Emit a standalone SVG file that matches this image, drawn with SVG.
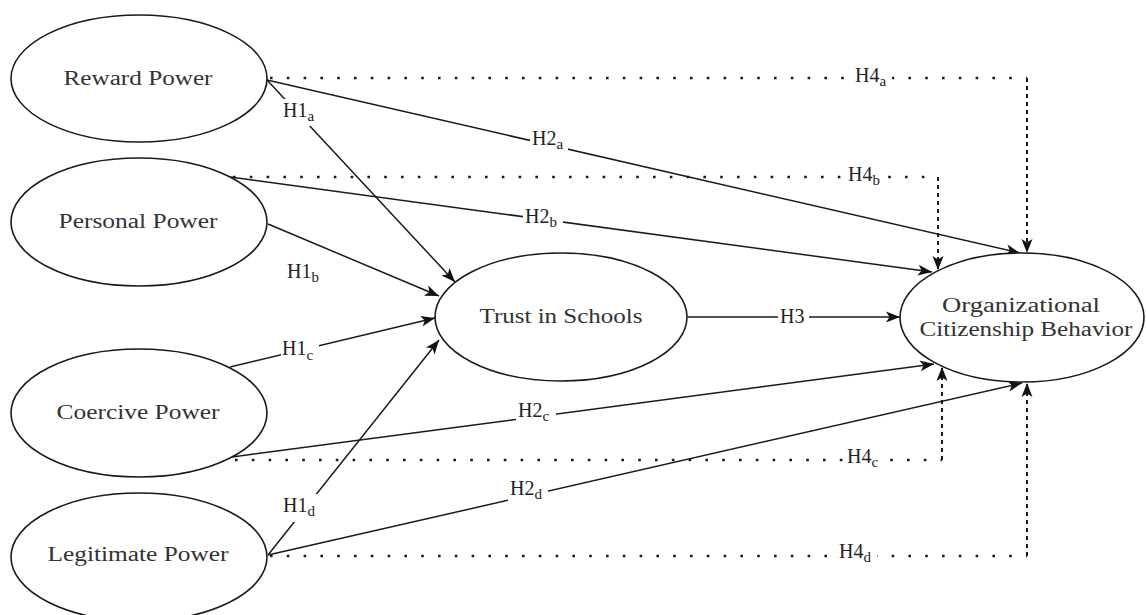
<svg xmlns="http://www.w3.org/2000/svg" width="1146" height="615" viewBox="0 0 1146 615">
<defs>
<style>
.node ellipse{fill:#fff;stroke:#1a1a1a;stroke-width:1.6}
.nt{font-family:"Liberation Serif","Times New Roman",serif;font-size:20px;fill:#333;text-anchor:middle}
.lbl{font-family:"Liberation Serif","Times New Roman",serif;font-size:20px;fill:#222}
.sub{font-size:15px}
.solid{fill:none;stroke:#1a1a1a;stroke-width:1.5}
.dh{fill:none;stroke:#1a1a1a;stroke-width:2.6;stroke-dasharray:2.6 14.2}
.dv{fill:none;stroke:#1a1a1a;stroke-width:2;stroke-dasharray:4 4}
.bg{fill:#fff}
</style>
<marker id="arr" markerUnits="userSpaceOnUse" markerWidth="16" markerHeight="12" refX="14" refY="5.5" orient="auto" overflow="visible">
<path d="M0,0 L14,5.5 L0,11 L3.5,5.5 z" fill="#111"/>
</marker>
</defs>
<rect width="1146" height="615" fill="#fff"/>

<g id="connectors">
<!-- H1 -->
<path class="solid" d="M267,80 L455,282" marker-end="url(#arr)"/>
<path class="solid" d="M268,224 L439,296" marker-end="url(#arr)"/>
<path class="solid" d="M230,367 L435,318" marker-end="url(#arr)"/>
<path class="solid" d="M268,555 L439,340" marker-end="url(#arr)"/>
<!-- H2 -->
<path class="solid" d="M267,80 L1020,253" marker-end="url(#arr)"/>
<path class="solid" d="M230,177 L932,272" marker-end="url(#arr)"/>
<path class="solid" d="M232,457 L934,364" marker-end="url(#arr)"/>
<path class="solid" d="M268,555 L1022,383" marker-end="url(#arr)"/>
<!-- H3 -->
<path class="solid" d="M688,317 L900,317" marker-end="url(#arr)"/>
<!-- H4 dotted -->
<path class="dh" d="M270,78 H1027"/>
<path class="dv" d="M1027,78 V253" marker-end="url(#arr)"/>
<path class="dh" d="M233,177 H938"/>
<path class="dv" d="M938,177 V270" marker-end="url(#arr)"/>
<path class="dh" d="M235,460 H942"/>
<path class="dv" d="M942,460 V367" marker-end="url(#arr)"/>
<path class="dh" d="M270,556 H1027"/>
<path class="dv" d="M1027,556 V383" marker-end="url(#arr)"/>

<!-- labels -->
<rect class="bg" x="281" y="99" width="41" height="27"/>
<text class="lbl" x="283" y="117">H1<tspan class="sub" dy="4">a</tspan></text>
<text class="lbl" x="287" y="278">H1<tspan class="sub" dy="4">b</tspan></text>
<rect class="bg" x="281" y="339" width="38" height="24"/>
<text class="lbl" x="282" y="355">H1<tspan class="sub" dy="5">c</tspan></text>
<rect class="bg" x="280" y="494" width="46" height="28"/>
<text class="lbl" x="283" y="512">H1<tspan class="sub" dy="4">d</tspan></text>

<rect class="bg" x="530" y="130" width="38" height="20"/>
<text class="lbl" x="532" y="145">H2<tspan class="sub" dy="4">a</tspan></text>
<rect class="bg" x="523" y="207" width="40" height="21"/>
<text class="lbl" x="525" y="223">H2<tspan class="sub" dy="4">b</tspan></text>
<rect class="bg" x="516" y="401" width="40" height="22"/>
<text class="lbl" x="518" y="417">H2<tspan class="sub" dy="4">c</tspan></text>
<rect class="bg" x="508" y="480" width="40" height="22"/>
<text class="lbl" x="510" y="495">H2<tspan class="sub" dy="4">d</tspan></text>

<rect class="bg" x="778" y="307" width="31" height="20"/>
<text class="lbl" x="780" y="323">H3</text>

<rect class="bg" x="852" y="66" width="40" height="22"/>
<text class="lbl" x="855" y="82">H4<tspan class="sub" dy="4">a</tspan></text>
<rect class="bg" x="846" y="166" width="40" height="22"/>
<text class="lbl" x="848" y="181">H4<tspan class="sub" dy="4">b</tspan></text>
<rect class="bg" x="845" y="448" width="38" height="22"/>
<text class="lbl" x="847" y="463">H4<tspan class="sub" dy="4">c</tspan></text>
<rect class="bg" x="837" y="543" width="40" height="22"/>
<text class="lbl" x="839" y="558">H4<tspan class="sub" dy="4">d</tspan></text>
</g>

<g id="reward" class="node">
<ellipse cx="139" cy="78.5" rx="128" ry="63.5"/>
<text class="nt" x="138" y="85" textLength="149" lengthAdjust="spacingAndGlyphs">Reward Power</text>
</g>
<g id="personal" class="node">
<ellipse cx="139" cy="222" rx="128" ry="64"/>
<text class="nt" x="138" y="228" textLength="159" lengthAdjust="spacingAndGlyphs">Personal Power</text>
</g>
<g id="coercive" class="node">
<ellipse cx="139" cy="413" rx="128" ry="64"/>
<text class="nt" x="138" y="419" textLength="163" lengthAdjust="spacingAndGlyphs">Coercive Power</text>
</g>
<g id="legitimate" class="node">
<ellipse cx="139" cy="557" rx="128" ry="64"/>
<text class="nt" x="138" y="561" textLength="181" lengthAdjust="spacingAndGlyphs">Legitimate Power</text>
</g>
<g id="trust" class="node">
<ellipse cx="561" cy="317" rx="126" ry="64"/>
<text class="nt" x="561" y="323" textLength="163" lengthAdjust="spacingAndGlyphs">Trust in Schools</text>
</g>
<g id="ocb" class="node">
<ellipse cx="1022" cy="317.5" rx="122" ry="64.5"/>
<text class="nt" x="1021" y="312" textLength="158" lengthAdjust="spacingAndGlyphs">Organizational</text>
<text class="nt" x="1026" y="336" textLength="213" lengthAdjust="spacingAndGlyphs">Citizenship Behavior</text>
</g>
</svg>
